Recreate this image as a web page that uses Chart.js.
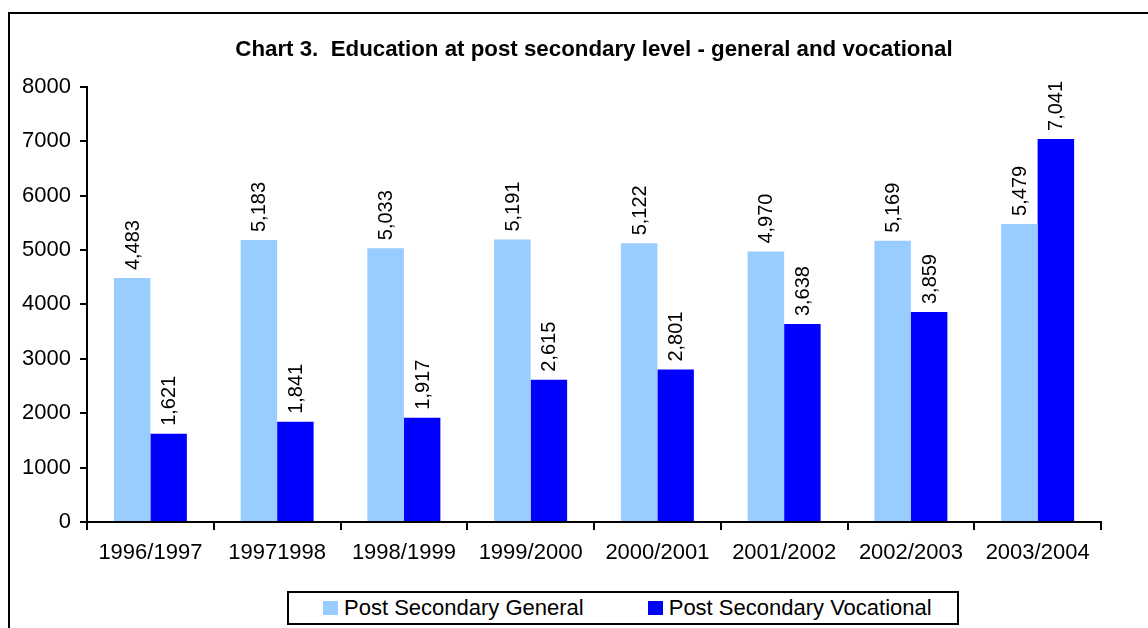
<!DOCTYPE html>
<html lang="en">

<head>
    <meta charset="UTF-8">
    <title>Chart 3. Education at post secondary level</title>
    <script src="https://cdn.jsdelivr.net/npm/chart.js"></script>
    <style>
        html, body {
            margin: 0;
            padding: 0;
            background: #fff;
            overflow: hidden;
        }

        .frame {
            position: absolute;
            left: 8px;
            top: 12px;
            width: 1300px;
            height: 800px;
            border: 2px solid #000;
            pointer-events: none;
        }

        .chart-box {
            position: absolute;
            left: 0;
            top: 0;
            width: 1148px;
            height: 628px;
        }

        .legend-box {
            position: absolute;
            left: 287px;
            top: 591px;
            width: 634px;
            height: 30px;
            border: 2px solid #000;
            background: #fff;
            display: flex;
            align-items: center;
            padding-left: 34px;
            box-sizing: content-box;
            white-space: nowrap;
            overflow: hidden;
            font-family: Arial, "Liberation Sans", sans-serif;
            font-size: 22px;
            color: #000;
        }

        .legend-box .item {
            display: flex;
            align-items: center;
            flex-shrink: 0;
            margin-right: 64px;
        }

        .legend-box .swatch {
            flex-shrink: 0;
            width: 15px;
            height: 14px;
            margin-right: 6px;
        }
    </style>
</head>

<body>
    <div class="chart-box">
        <canvas id="chart3"></canvas>
    </div>
    <div class="frame"></div>
    <div class="legend-box" id="legend"></div>

    <script>
        // data
        const categories = ['1996/1997', '19971998', '1998/1999', '1999/2000', '2000/2001', '2001/2002', '2002/2003', '2003/2004'];
        const generalValues = [4483, 5183, 5033, 5191, 5122, 4970, 5169, 5479];
        const vocationalValues = [1621, 1841, 1917, 2615, 2801, 3638, 3859, 7041];
        const yTicks = [0, 1000, 2000, 3000, 4000, 5000, 6000, 7000, 8000];

        const fontFamily = 'Arial, "Liberation Sans", sans-serif';

        // value labels standing on top of the bars, turned on their side
        const barLabels = {
            id: 'barLabels',
            afterDatasetsDraw(chart) {
                const ctx = chart.ctx;
                ctx.save();
                ctx.font = '20px ' + fontFamily;
                ctx.fillStyle = '#000';
                ctx.textAlign = 'left';
                ctx.textBaseline = 'middle';
                chart.data.datasets.forEach(function (ds, i) {
                    chart.getDatasetMeta(i).data.forEach(function (bar, j) {
                        ctx.save();
                        ctx.translate(bar.x + 1, bar.y - 8);
                        ctx.rotate(-Math.PI / 2);
                        ctx.fillText(ds.data[j].toLocaleString('en-US'), 0, 0);
                        ctx.restore();
                    });
                });
                ctx.restore();
            }
        };

        const chart = new Chart(document.getElementById('chart3'), {
            type: 'bar',
            data: {
                labels: categories,
                datasets: [{
                    label: 'Post Secondary General',
                    data: generalValues,
                    backgroundColor: '#99CCFF',
                    barPercentage: 1,
                    categoryPercentage: 0.576
                }, {
                    label: 'Post Secondary Vocational',
                    data: vocationalValues,
                    backgroundColor: '#0000FF',
                    barPercentage: 1,
                    categoryPercentage: 0.576
                }]
            },
            options: {
                responsive: true,
                maintainAspectRatio: false,
                animation: false,
                layout: {
                    padding: { left: 0, right: 47, top: 0, bottom: 0 }
                },
                plugins: {
                    legend: { display: false },
                    tooltip: { enabled: false },
                    title: {
                        display: true,
                        fullSize: false,
                        text: 'Chart 3.  Education at post secondary level - general and vocational',
                        color: '#000',
                        font: { family: fontFamily, size: 22.3, weight: 'bold' },
                        padding: { top: 36, bottom: 24 }
                    }
                },
                scales: {
                    x: {
                        offset: true,
                        grid: {
                            offset: true,
                            drawOnChartArea: false,
                            tickLength: 8,
                            color: '#000',
                            lineWidth: 2
                        },
                        border: { display: true, color: '#000', width: 2 },
                        ticks: {
                            color: '#000',
                            padding: 10,
                            maxRotation: 0,
                            font: { family: fontFamily, size: 22 }
                        },
                        afterFit(scale) {
                            scale.height = 106;
                        }
                    },
                    y: {
                        min: yTicks[0],
                        max: yTicks[yTicks.length - 1],
                        afterBuildTicks(scale) {
                            scale.ticks = yTicks.map(v => ({ value: v }));
                        },
                        grid: {
                            drawOnChartArea: false,
                            tickLength: 7,
                            color: '#000',
                            lineWidth: 2
                        },
                        border: { display: true, color: '#000', width: 2 },
                        ticks: {
                            color: '#000',
                            padding: 9,
                            font: { family: fontFamily, size: 22 },
                            callback: v => String(v)
                        },
                        afterFit(scale) {
                            scale.width = 87;
                        }
                    }
                }
            },
            plugins: [barLabels]
        });

        // legend box below the plot, built from the chart's datasets
        const legend = document.getElementById('legend');
        chart.data.datasets.forEach(function (ds) {
            const item = document.createElement('div');
            item.className = 'item';
            const sw = document.createElement('span');
            sw.className = 'swatch';
            sw.style.background = ds.backgroundColor;
            const txt = document.createElement('span');
            txt.textContent = ds.label;
            item.appendChild(sw);
            item.appendChild(txt);
            legend.appendChild(item);
        });
    </script>
</body>

</html>
